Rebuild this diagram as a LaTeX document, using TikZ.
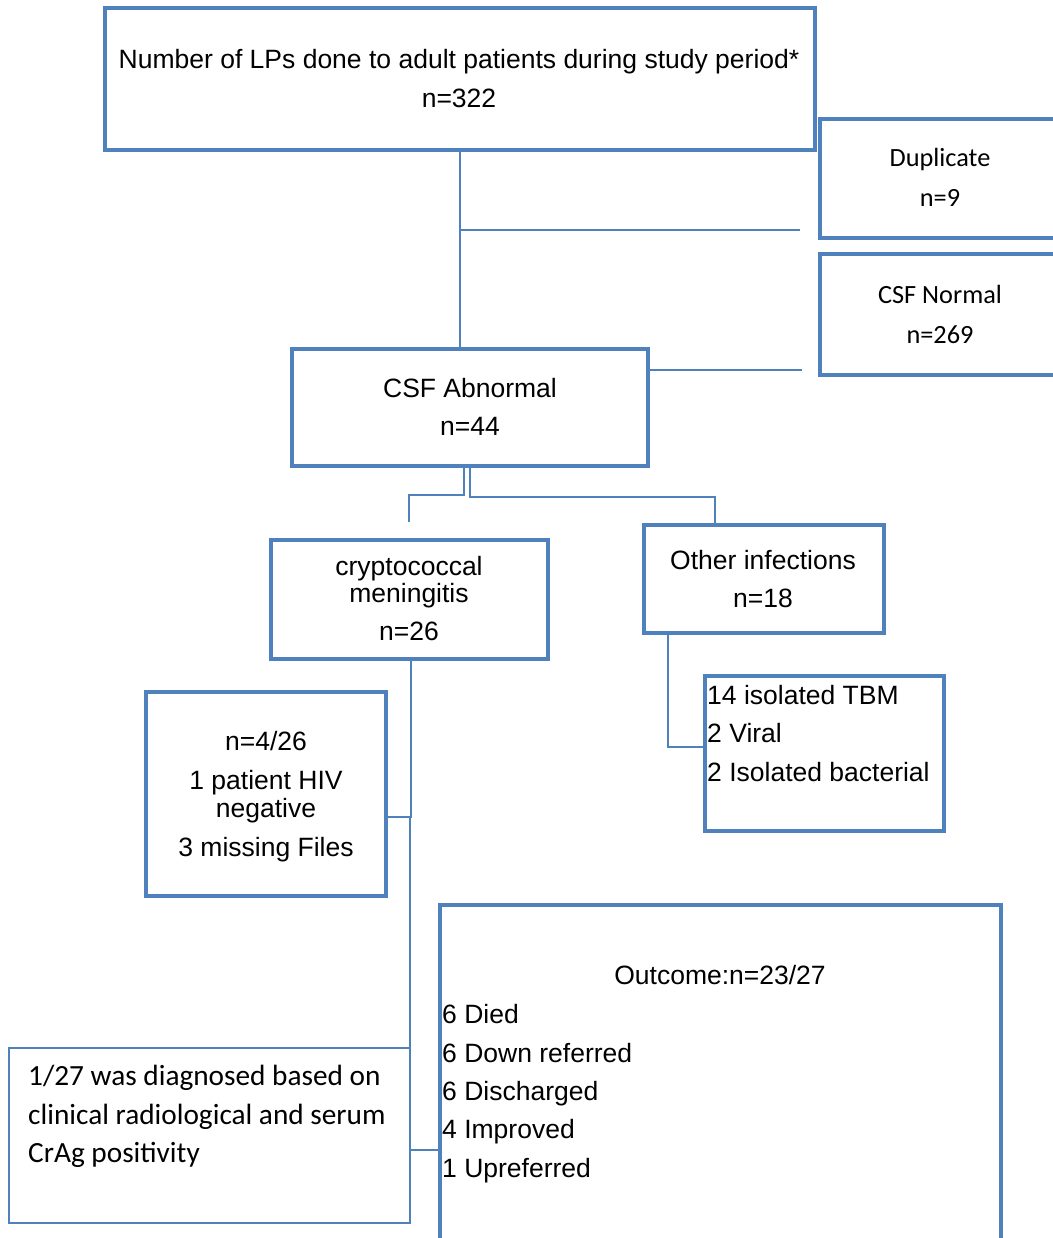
\documentclass[tikz,border=0pt]{standalone}
\usepackage{fontspec}
\setmainfont{Liberation Sans}
\newfontfamily\calfont{Carlito}
\definecolor{bl}{HTML}{4F81BD}
\begin{document}
\begin{tikzpicture}[x=1pt,y=-1pt,
  box/.style={draw=bl, line width=4pt, inner sep=0pt, outer sep=0pt},
  thinbox/.style={draw=bl, line width=1.3pt, inner sep=0pt, outer sep=0pt},
  link/.style={draw=bl, line width=2pt},
  thinlink/.style={draw=bl, line width=1.3pt},
  txt/.style={inner sep=0pt, font=\fontsize{26.5}{38.5}\selectfont, align=center},
  ctxt/.style={inner sep=0pt, font=\calfont\fontsize{26.3}{40}\selectfont, align=center},
  ltxt/.style={inner sep=0pt, font=\fontsize{26.5}{38.3}\selectfont, align=left, anchor=north west},
]
\useasboundingbox (0,0) rectangle (1052,1238);
% boxes
\node[box, minimum width=710, minimum height=142] (top) at (460,79) {};
\node[box, line width=4.5pt, minimum width=240, minimum height=119] (dup) at (940,178.5) {};
\node[box, line width=4.5pt, minimum width=240, minimum height=121] (norm) at (940,314.5) {};
\node[box, minimum width=356, minimum height=117] (abn) at (470,407.5) {};
\node[box, minimum width=277, minimum height=119] (cry) at (409.5,599.5) {};
\node[box, minimum width=240, minimum height=108] (oth) at (764,579) {};
\node[box, minimum width=239, minimum height=155] (tbm) at (824.5,753.5) {};
\node[box, minimum width=240, minimum height=204] (miss) at (266,794) {};
\node[box, minimum width=561, minimum height=340] (out) at (720.5,1075) {};
\node[thinbox, minimum width=401, minimum height=175] (crag) at (209.5,1135.5) {};
% texts
\node[txt] (ttop) at (459,78.5) {Number of LPs done to adult patients during study period*\\n=322};
\node[ctxt] (tdup) at (940,177) {Duplicate\\n=9};
\node[ctxt] (tnorm) at (940,314) {CSF Normal\\n=269};
\node[txt] (tabn) at (470,407) {CSF Abnormal\\n=44};
\node[txt] (tcry) at (409,598.5) {cryptococcal\\[-11.5pt]meningitis\\n=26};
\node[txt] (toth) at (763,579) {Other infections\\n=18};
\node[ltxt] (ttbm) at (707,685) {14 isolated TBM\\2 Viral\\2 Isolated bacterial};
\node[txt] (tmiss) at (266,796.5) {n=4/26\\1 patient HIV\\[-10pt]negative\\3 missing Files};
\node[txt] (touthead) at (720,975) {Outcome:n=23/27};
\node[ltxt] (tout) at (442,1004.5) {6 Died\\6 Down referred\\6 Discharged\\4 Improved\\1 Upreferred};
\node[inner sep=0pt, font=\calfont\fontsize{29.3}{38.5}\selectfont, align=left, anchor=north west] (tcrag) at (28,1065) {1/27 was diagnosed based on\\clinical radiological and serum\\CrAg positivity};
% free ends
\coordinate (e1) at (800,230);
\coordinate (e2) at (802,370);
% connectors
\draw[link] (top.south -| 460,0) -- (abn.north -| 460,0);
\draw[link] (460,230) -- (e1);
\draw[link] (abn.east |- 0,370) -- (e2);
\draw[link, line width=2.5pt] (abn.south -| 464,0) |- (409,495) -- (409,522);
\draw[link] (abn.south -| 470,0) |- (715,497) -- (oth.north -| 715,0);
\draw[link] (cry.south -| 411,0) |- (miss.east |- 0,817);
\draw[thinlink] (410,817) -- (crag.north east);
\draw[thinlink] (crag.east |- 0,1150) -- (out.west |- 0,1150);
\draw[thinlink] (oth.south -| 668,0) |- (tbm.west |- 0,747);
\end{tikzpicture}
\end{document}
